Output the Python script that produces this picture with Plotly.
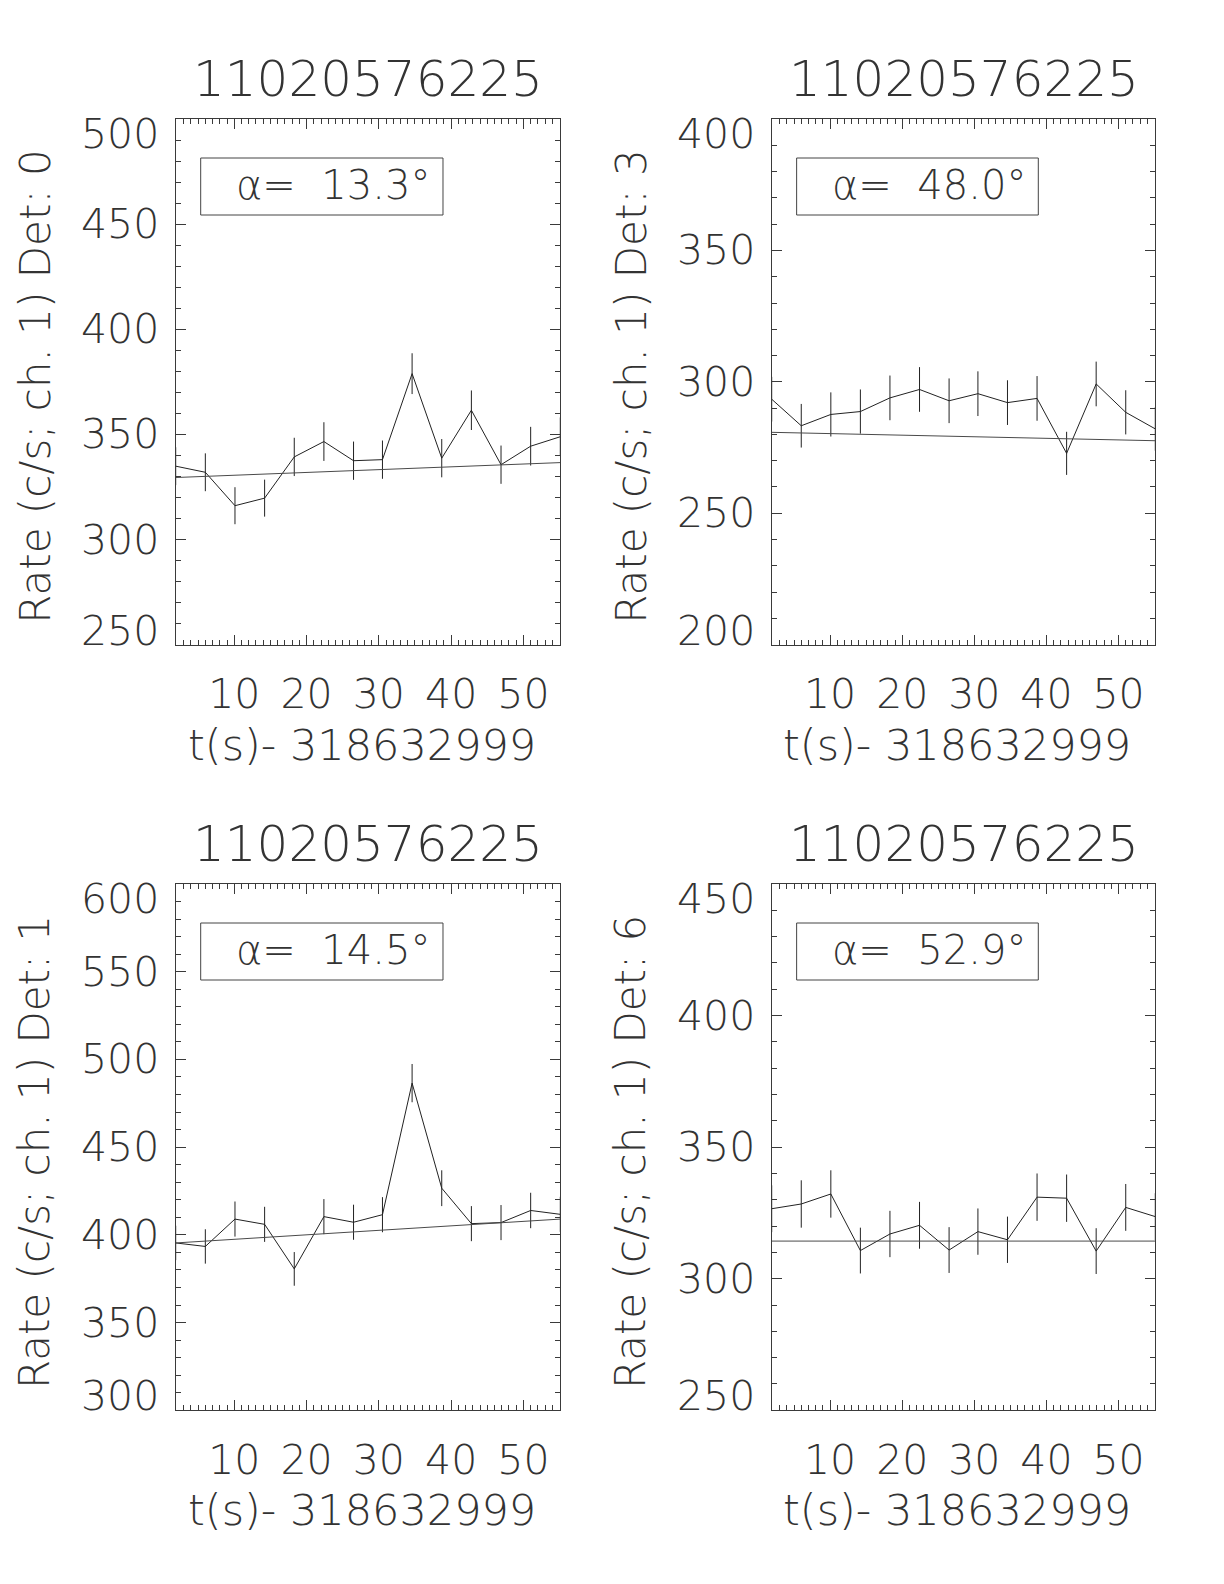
import plotly.graph_objects as go
from plotly.subplots import make_subplots

# ---------------- data ----------------
title_text = "11020576225"
x_title = "t(s)- 318632999"
det_ids = [0, 3, 1, 6]
alphas = ["13.3", "48.0", "14.5", "52.9"]

t = [1.9, 6.0, 10.1, 14.2, 18.3, 22.4, 26.5, 30.5, 34.6, 38.7, 42.8, 46.9, 51.0, 55.1]
t_fit = [1.9, 55.1]

rate_det0 = [334.9, 332.0, 316.1, 319.7, 339.3, 346.6, 337.5, 338.0, 378.9, 338.7, 361.5, 335.6, 344.4, 348.9]
err_det0 = [9.0, 9.0, 8.8, 8.8, 9.1, 9.2, 9.1, 9.1, 9.7, 9.1, 9.4, 9.1, 9.2, 9.2]
fit_det0 = [329.5, 336.6]

rate_det3 = [293.4, 283.3, 287.6, 288.7, 293.9, 297.1, 292.8, 295.5, 292.1, 293.7, 272.8, 299.2, 288.4, 282.1]
err_det3 = [8.5, 8.3, 8.4, 8.4, 8.5, 8.5, 8.5, 8.5, 8.5, 8.5, 8.2, 8.5, 8.4, 8.3]
fit_det3 = [280.8, 277.6]

rate_det1 = [395.4, 393.4, 409.0, 406.0, 380.6, 410.4, 407.2, 411.5, 486.5, 426.6, 406.4, 407.0, 413.9, 411.7]
err_det1 = [9.8, 9.8, 10.0, 10.0, 9.6, 10.0, 10.0, 10.0, 10.9, 10.2, 10.0, 10.0, 10.1, 10.0]
fit_det1 = [395.4, 409.0]

rate_det6 = [326.6, 328.4, 332.2, 310.7, 317.0, 320.3, 310.9, 317.9, 314.8, 331.0, 330.6, 310.5, 327.1, 323.6]
err_det6 = [8.9, 9.0, 9.0, 8.7, 8.8, 8.9, 8.7, 8.8, 8.8, 9.0, 9.0, 8.7, 8.9, 8.9]
fit_det6 = [314.3, 314.3]

yticks_det0 = [250, 300, 350, 400, 450, 500]
yticks_det3 = [200, 250, 300, 350, 400]
yticks_det1 = [300, 350, 400, 450, 500, 550, 600]
yticks_det6 = [250, 300, 350, 400, 450]

x_range = [1.9, 55.1]
xticks = [10, 20, 30, 40, 50]

panels = [
    (rate_det0, err_det0, fit_det0, yticks_det0),
    (rate_det3, err_det3, fit_det3, yticks_det3),
    (rate_det1, err_det1, fit_det1, yticks_det1),
    (rate_det6, err_det6, fit_det6, yticks_det6),
]

# ---------------- style / layout ----------------
OFF = 8  # default page body margin
W, H = 1224 - 2 * OFF, 1584 - 2 * OFF
FONT = "DejaVu Sans"
TXT = "#333333"
LINE = "#222222"
AXC = "#3a3a3a"

# panel borders in page pixels
col_px = [(175.7, 560.3), (771.7, 1155.3)]
row_px = [(119.0, 644.7), (884.0, 1410.3)]

fig = make_subplots(rows=2, cols=2)

annotations = []
shapes = []
for i, (rate, err, fit, yt) in enumerate(panels):
    r, c = divmod(i, 2)
    xa = "x" if i == 0 else f"x{i+1}"
    ya = "y" if i == 0 else f"y{i+1}"
    fig.add_trace(go.Scatter(
        x=t, y=rate, mode="lines",
        line=dict(color=LINE, width=1),
        error_y=dict(type="data", array=err, visible=True, color=LINE, thickness=1, width=0),
        showlegend=False, hoverinfo="skip"), row=r + 1, col=c + 1)
    fig.add_trace(go.Scatter(
        x=t_fit, y=fit, mode="lines",
        line=dict(color="#4a4a4a", width=1),
        showlegend=False, hoverinfo="skip"), row=r + 1, col=c + 1)

    x0, x1 = col_px[c][0] - OFF, col_px[c][1] - OFF
    y0, y1 = row_px[r][0] - OFF, row_px[r][1] - OFF
    pw, ph = x1 - x0, y1 - y0
    axis_common = dict(
        showgrid=False, zeroline=False, showline=True, linecolor=AXC, linewidth=1,
        mirror="ticks", ticks="inside", tickcolor=AXC, tickwidth=1,
    )
    fig.update_xaxes(
        domain=[x0 / W, x1 / W], range=x_range, tickvals=xticks, ticklen=10,
        minor=dict(dtick=1, tick0=0, ticks="inside", ticklen=5, tickcolor=AXC, tickwidth=1),
        tickfont=dict(family=FONT, size=41, color=TXT, weight=200),
        ticklabelstandoff=13,
        row=r + 1, col=c + 1, **axis_common)
    fig.update_yaxes(
        domain=[1 - y1 / H, 1 - y0 / H], range=[yt[0], yt[-1]], tickvals=yt, ticklen=10,
        showticklabels=False,
        minor=dict(dtick=10, tick0=0, ticks="inside", ticklen=5, tickcolor=AXC, tickwidth=1),
        row=r + 1, col=c + 1, **axis_common)

    fnt = dict(family=FONT, size=41, color=TXT, weight=200)
    # y tick labels
    for k, v in enumerate(yt):
        shift = 0
        if k == len(yt) - 1:
            shift = -15
        elif k == 0:
            shift = 14
        annotations.append(dict(
            text=str(v), xref=f"{xa} domain", yref=ya, x=-14.5 / pw, y=v,
            xanchor="right", yanchor="middle", yshift=shift, showarrow=False, font=fnt))
    # title
    annotations.append(dict(
        text=title_text, xref=f"{xa} domain", yref=f"{ya} domain", x=0.5, y=1 + 40 / ph,
        xanchor="center", yanchor="middle", showarrow=False,
        font=dict(family=FONT, size=50, color=TXT, weight=200)))
    # y title
    annotations.append(dict(
        text=f"Rate (c/s; ch. 1) Det: {det_ids[i]}", xref=f"{xa} domain", yref=f"{ya} domain",
        x=-141 / pw, y=0.49, textangle=-90, xanchor="center", yanchor="middle",
        showarrow=False, font=dict(family=FONT, size=42, color=TXT, weight=200)))
    # x title
    annotations.append(dict(
        text=x_title, xref=f"{xa} domain", yref=f"{ya} domain", x=0.484, y=-100 / ph,
        xanchor="center", yanchor="middle", showarrow=False,
        font=dict(family=FONT, size=43, color=TXT, weight=200)))
    # alpha box
    shapes.append(dict(
        type="rect", xref=f"{xa} domain", yref=f"{ya} domain",
        x0=0.065, x1=0.695, y0=1 - 96 / ph, y1=1 - 39 / ph,
        line=dict(color="#444444", width=1), fillcolor="rgba(0,0,0,0)"))
    annotations.append(dict(
        text=f"α=\u00a0 {alphas[i]}°", xref=f"{xa} domain", yref=f"{ya} domain",
        x=0.41, y=1 - 66 / ph, xanchor="center", yanchor="middle", showarrow=False,
        font=dict(family=FONT, size=40, color=TXT, weight=200)))

fig.update_layout(
    width=W, height=H, autosize=False,
    margin=dict(l=0, r=0, t=0, b=0),
    paper_bgcolor="white", plot_bgcolor="white",
    annotations=annotations, shapes=shapes,
    showlegend=False,
)

fig.write_html("out.html")
